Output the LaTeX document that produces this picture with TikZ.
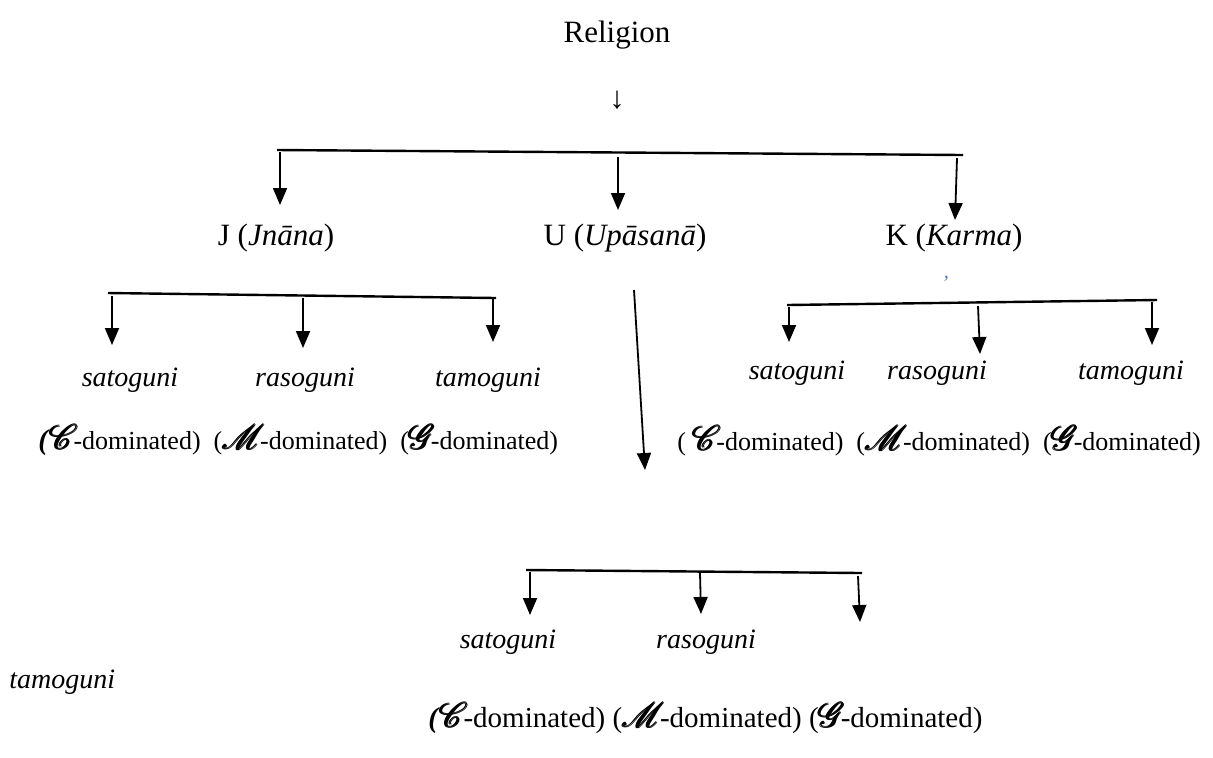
\documentclass[tikz,border=0pt]{standalone}
\usepackage{fontspec}
\setmainfont{Liberation Serif}
\usepackage{amsmath}
\usepackage{mathrsfs}
\usepackage{xcolor}
\usetikzlibrary{arrows.meta}

\definecolor{tickblue}{RGB}{70,120,200}
\newcommand{\bpar}{\textbf{\textit{\Large(}}}
\newcommand{\scrl}[1]{{\fontsize{19}{19}\selectfont$\pmb{\mathscr{#1}}$}\kern-2.5pt}
\newcommand{\dom}[1]{\scrl{#1}-dominated)}

\begin{document}
\begin{tikzpicture}[x=0.5pt,y=-0.5pt,
		every node/.style={inner sep=0pt,font=\fontsize{13}{15}\selectfont},
		head/.style={font=\fontsize{15.5}{18}\selectfont},
		guni/.style={font=\fontsize{14}{16}\selectfont\itshape},
		bar/.style={line width=1.2pt},
		down/.style={line width=0.9pt,-{Triangle[length=8.5pt,width=7pt]}}]
		\useasboundingbox (0,0) rectangle (1213,757);
		% top
		\node[head] (rel) at (617,35) {Religion};
		\node[head] (relarr) at (617,100) {↓};
		\coordinate (tl) at (277,150);
		\coordinate (tr) at (963,155);
		\draw[bar] (tl) -- (tr);
		\node[head] (jn) at (276,238) {J (\textit{Jnāna})};
		\node[head] (up) at (625,238) {U (\textit{Upāsanā})};
		\node[head] (ka) at (954,238) {K (\textit{Karma})};
		\coordinate (ta) at (280,152);  \coordinate (tae) at (280,205);
		\coordinate (tb) at (618,157);  \coordinate (tbe) at (618,210);
		\coordinate (tc) at (957,158);  \coordinate (tce) at (955,220);
		\draw[down] (ta) -- (tae);
		\draw[down] (tb) -- (tbe);
		\draw[down] (tc) -- (tce);
		\node[text=tickblue,font=\fontsize{10}{10}\selectfont\itshape] (tick) at (945,283) {'};
		% J branch
		\coordinate (jl) at (108,293);
		\coordinate (jr) at (496,298);
		\draw[bar] (jl) -- (jr);
		\coordinate (ja) at (112,296);  \coordinate (jae) at (112,345);
		\coordinate (jb) at (303,298);  \coordinate (jbe) at (303,348);
		\coordinate (jc) at (493,299);  \coordinate (jce) at (493,342);
		\draw[down] (ja) -- (jae);
		\draw[down] (jb) -- (jbe);
		\draw[down] (jc) -- (jce);
		\node[guni] (js) at (130,380) {satoguni};
		\node[guni] (jr2) at (305,380) {rasoguni};
		\node[guni] (jt) at (488,380) {tamoguni};
		\node[anchor=west] (jdom) at (38,440) {\bpar\dom{C}\ \ (\dom{M}\ \ (\dom{G}};
		% U branch
		\coordinate (ua) at (634,290);
		\coordinate (uae) at (645,470);
		\draw[down] (ua) -- (uae);
		\coordinate (ul) at (526,570);
		\coordinate (ur) at (862,573);
		\draw[bar] (ul) -- (ur);
		\coordinate (uba) at (530,572);  \coordinate (ubae) at (530,615);
		\coordinate (ubb) at (700,573);  \coordinate (ubbe) at (701,614);
		\coordinate (ubc) at (858,576);  \coordinate (ubce) at (860,622);
		\draw[down] (uba) -- (ubae);
		\draw[down] (ubb) -- (ubbe);
		\draw[down] (ubc) -- (ubce);
		\node[guni] (us) at (508,642) {satoguni};
		\node[guni] (ur2) at (706,642) {rasoguni};
		\node[guni,anchor=west] (ut) at (9,682) {tamoguni};
		\node[anchor=west,font=\fontsize{14.5}{17}\selectfont] (udom) at (428,718) {\bpar\dom{C} (\dom{M} (\dom{G}};
		% K branch
		\coordinate (kl) at (787,305);
		\coordinate (kr) at (1157,300);
		\draw[bar] (kl) -- (kr);
		\coordinate (ka1) at (789,307);  \coordinate (ka1e) at (789,342);
		\coordinate (kb) at (978,306);   \coordinate (kbe) at (980,354);
		\coordinate (kc) at (1152,302);  \coordinate (kce) at (1152,345);
		\draw[down] (ka1) -- (ka1e);
		\draw[down] (kb) -- (kbe);
		\draw[down] (kc) -- (kce);
		\node[guni] (ks) at (797,373) {satoguni};
		\node[guni] (kr2) at (937,373) {rasoguni};
		\node[guni] (kt) at (1131,373) {tamoguni};
		\node[anchor=west] (kdom) at (677,441) {( \dom{C}\ \ (\dom{M}\ \ (\dom{G}};
	\end{tikzpicture}
\end{document}
